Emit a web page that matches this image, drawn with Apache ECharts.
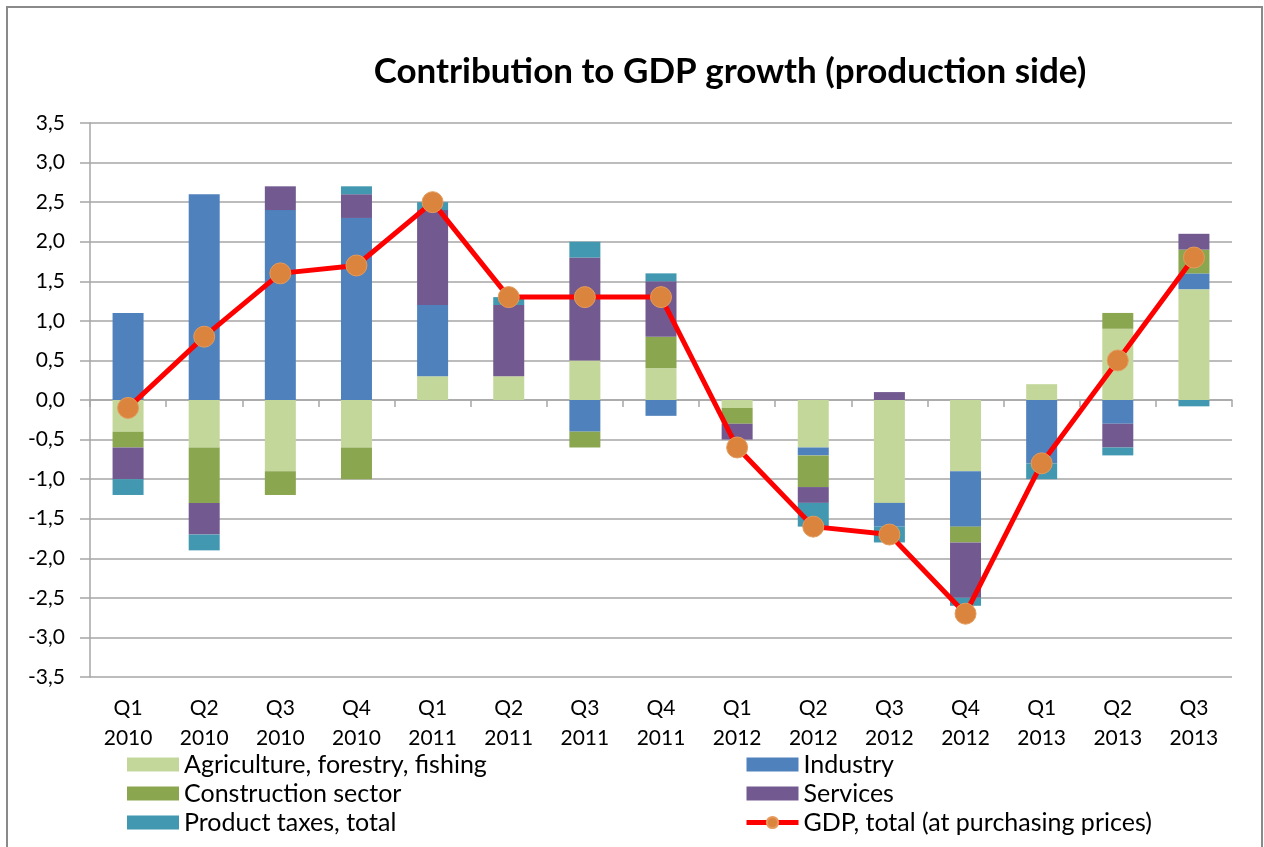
<!DOCTYPE html>
<html>
<head>
<meta charset="utf-8">
<script src="https://cdn.jsdelivr.net/npm/echarts@6/dist/echarts.min.js"></script>
<style>
html,body{margin:0;padding:0;background:#fff;}
#chart{width:1264px;height:847px;}
</style>
</head>
<body>
<div id="chart"></div>
<script>
const categories = ['Q1\n2010','Q2\n2010','Q3\n2010','Q4\n2010','Q1\n2011','Q2\n2011','Q3\n2011','Q4\n2011','Q1\n2012','Q2\n2012','Q3\n2012','Q4\n2012','Q1\n2013','Q2\n2013','Q3\n2013'];
const agriculture = [-0.4, -0.6, -0.9, -0.6, 0.3, 0.3, 0.5, 0.4, -0.1, -0.6, -1.3, -0.9, 0.2, 0.9, 1.4];
const industry = [1.1, 2.6, 2.4, 2.3, 0.9, 0, -0.4, -0.2, 0, -0.1, -0.3, -0.7, -0.8, -0.3, 0.2];
const construction = [-0.2, -0.7, -0.3, -0.4, 0, 0, -0.2, 0.4, -0.2, -0.4, 0, -0.2, 0, 0.2, 0.3];
const services = [-0.4, -0.4, 0.3, 0.3, 1.2, 0.9, 1.3, 0.7, -0.2, -0.2, 0.1, -0.7, 0, -0.3, 0.2];
const taxes = [-0.2, -0.2, 0, 0.1, 0.1, 0.1, 0.2, 0.1, 0, -0.3, -0.2, -0.1, -0.2, -0.1, -0.08];
const gdp = [-0.1, 0.8, 1.6, 1.7, 2.5, 1.3, 1.3, 1.3, -0.6, -1.6, -1.7, -2.7, -0.8, 0.5, 1.8];
const seriesNames = ['Agriculture, forestry, fishing','Industry','Construction sector','Services','Product taxes, total','GDP, total (at purchasing prices)'];
const yMin = -3.5, yMax = 3.5, yStep = 0.5;

const FONT = 'Lato';
const chart = echarts.init(document.getElementById('chart'), null, {renderer:'canvas'});
const gridColor = '#a6a6a6';
function bar(name, data, color){
  return {name, type:'bar', stack:'total', data, barWidth:31,
    itemStyle:{color}, xAxisIndex:0, yAxisIndex:0, z:2};
}
const legendText = {fontFamily:FONT, fontSize:25, color:'#000', lineHeight:22};
chart.setOption({
  animation:false,
  backgroundColor:'#fff',
  graphic:[{type:'rect', shape:{x:7,y:7,width:1255,height:860}, style:{fill:'none', stroke:'#8a8a8a', lineWidth:2}, silent:true}],
  title:{text:'Contribution to GDP growth (production side)', left:725, top:49, textAlign:'center',
    textStyle:{fontFamily:FONT, fontWeight:'bold', fontSize:35, color:'#000'}},
  grid:{left:90, right:32, top:123, bottom:170, containLabel:false},
  legend:[
    {data:[seriesNames[0],seriesNames[2],seriesNames[4]], orient:'vertical', left:122, top:747, itemWidth:52, itemHeight:14, itemGap:4, icon:'rect',
      textStyle:legendText},
    {data:[{name:seriesNames[1], icon:'rect'},{name:seriesNames[3], icon:'rect'},{name:seriesNames[5], lineStyle:{width:5}}], orient:'vertical', left:739, top:747, itemWidth:52, itemHeight:14, itemGap:4,
      textStyle:legendText}
  ],
  xAxis:[
    {type:'category', data:categories, position:'bottom',
      axisLine:{onZero:true, lineStyle:{color:gridColor, width:1.5}},
      axisTick:{show:true, alignWithLabel:false, length:7, lineStyle:{color:gridColor, width:1.5}},
      axisLabel:{show:false}},
    {type:'category', data:categories, position:'bottom',
      axisLine:{show:false, onZero:false}, axisTick:{show:false},
      axisLabel:{show:true, margin:16, fontFamily:FONT, fontSize:21, color:'#000', lineHeight:30}}
  ],
  yAxis:{type:'value', min:yMin, max:yMax, interval:yStep,
    axisLine:{show:true, lineStyle:{color:gridColor, width:1.5}},
    axisTick:{show:true, length:10, lineStyle:{color:gridColor, width:1.5}},
    splitLine:{show:true, lineStyle:{color:gridColor, width:1.5}},
    axisLabel:{margin:25, fontFamily:FONT, fontSize:21, color:'#000',
      formatter:v=>v.toFixed(1).replace('.',',')}},
  series:[
    bar(seriesNames[0], agriculture, '#c4d79b'),
    bar(seriesNames[1], industry, '#4f81bd'),
    bar(seriesNames[2], construction, '#8aa64e'),
    bar(seriesNames[3], services, '#725a90'),
    bar(seriesNames[4], taxes, '#4198b0'),
    {name:seriesNames[5], type:'line', data:gdp, xAxisIndex:0, yAxisIndex:0, z:5,
      symbol:'circle', symbolSize:21,
      lineStyle:{color:'#ff0000', width:5},
      itemStyle:{color:'#db843d', borderColor:'#e49b5c', borderWidth:1}}
  ]
});
</script>
</body>
</html>
